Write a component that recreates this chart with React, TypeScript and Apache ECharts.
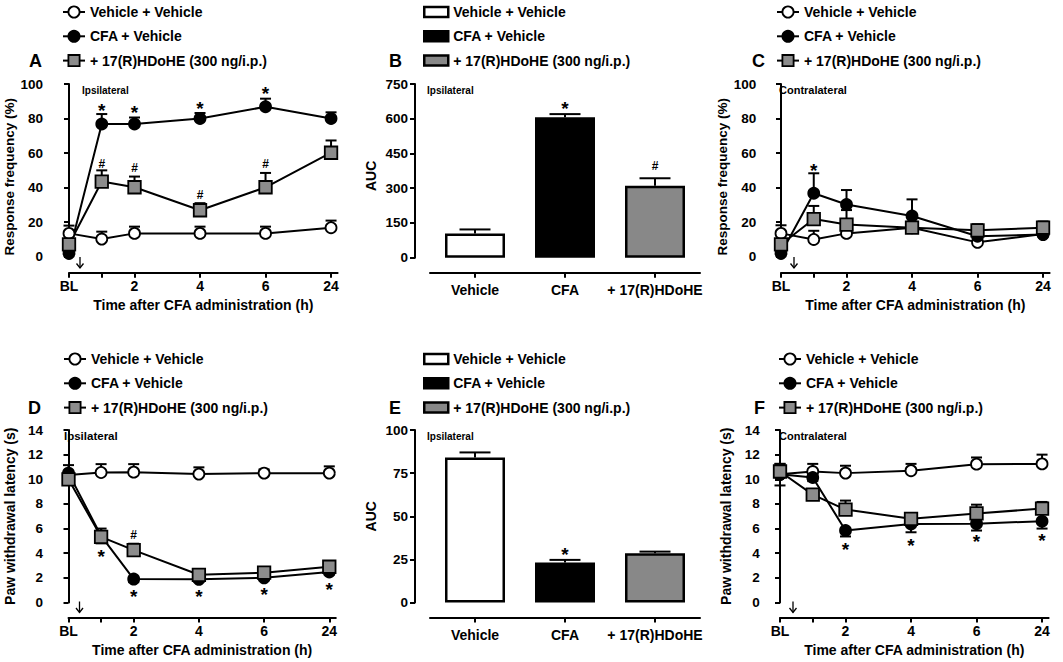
import React, { useEffect, useRef } from 'react';
import * as echarts from 'echarts';

const FONT = '"Liberation Sans", Arial, Helvetica, sans-serif';

// ---------- categories / tick labels ----------
const timeLabels = ['BL', '1', '2', '4', '6', '24'];
const timeAxisPos = [0, 1, 2, 4, 6, 8];
const timeLabelPos = [0, 2, 4, 6, 8];
const barCategories = ['Vehicle', 'CFA', '+ 17(R)HDoHE'];
const groupNames = ['Vehicle + Vehicle', 'CFA + Vehicle', '+ 17(R)HDoHE (300 ng/i.p.)'];
const panelLetters = ['A', 'B', 'C', 'D', 'E', 'F'];
const sideLabels = ['Ipsilateral', 'Ipsilateral', 'Contralateral', 'Ipsilateral', 'Ipsilateral', 'Contralateral'];
const xTimeTitle = 'Time after CFA administration (h)';
const freqTitle = 'Response frequency (%)';
const latTitle = 'Paw withdrawal latency (s)';
const aucTitle = 'AUC';

// ---------- A: ipsilateral response frequency (%) ----------
const vehA = [13.5, 10.2, 13.5, 13.5, 13.5, 16.8];
const vehAErr = [4.5, 4.3, 3.9, 3.9, 3.9, 4.1];
const cfaA = [1.9, 76.8, 76.8, 80.0, 86.8, 80.0];
const cfaAErr = [0, 5.8, 3.8, 3.2, 4.7, 3.6];
const hdA = [7.1, 43.5, 40.2, 26.9, 40.2, 60.2];
const hdAErr = [0, 6.5, 6.2, 4.1, 8.3, 7.1];

// ---------- B: AUC ipsilateral ----------
const aucB = [105, 606, 311];
const aucBErr = [17, 14, 32];

// ---------- C: contralateral response frequency (%) ----------
const vehC = [13.5, 10.0, 13.5, 16.8, 8.3, 13.2];
const vehCErr = [4.7, 5.0, 3.5, 3.0, 3.0, 3.0];
const cfaC = [1.9, 36.7, 30.2, 23.6, 11.8, 12.8];
const cfaCErr = [0, 11.6, 8.4, 9.6, 3.0, 3.0];
const hdC = [7.1, 21.8, 18.6, 16.8, 15.3, 16.8];
const hdCErr = [0, 7.6, 8.4, 3.5, 3.5, 3.6];

// ---------- D: ipsilateral paw withdrawal latency (s) ----------
const vehD = [10.35, 10.55, 10.58, 10.42, 10.5, 10.5];
const vehDErr = [0.8, 0.68, 0.65, 0.55, 0.3, 0.55];
const cfaD = [10.5, 5.4, 1.9, 1.88, 2.0, 2.48];
const cfaDErr = [0, 0.6, 0.25, 0.2, 0.2, 0.2];
const hdD = [10.0, 5.33, 4.25, 2.25, 2.42, 2.9];
const hdDErr = [0.3, 0.67, 0.52, 0.25, 0.2, 0.2];

// ---------- E: AUC ipsilateral latency ----------
const aucE = [84, 23.2, 28.6];
const aucEErr = [3.0, 1.5, 0.9];

// ---------- F: contralateral paw withdrawal latency (s) ----------
const vehF = [10.4, 10.63, 10.5, 10.7, 11.23, 11.25];
const vehFErr = [0.85, 0.62, 0.6, 0.55, 0.54, 0.75];
const cfaF = [10.4, 10.15, 5.84, 6.38, 6.4, 6.6];
const cfaFErr = [0.9, 0.3, 0.48, 0.68, 0.56, 0.6];
const hdF = [10.63, 8.75, 7.54, 6.79, 7.23, 7.62];
const hdFErr = [0.62, 0.3, 0.73, 0.4, 0.71, 0.54];

// ---------- significance marks (time / category index, value) ----------
const sigA = [
  { t: '*', i: 1, y: 87 }, { t: '*', i: 2, y: 86 }, { t: '*', i: 3, y: 88.4 }, { t: '*', i: 4, y: 96.7 },
  { t: '#', i: 1, y: 53.8 }, { t: '#', i: 2, y: 51.3 }, { t: '#', i: 3, y: 35.8 }, { t: '#', i: 4, y: 53.8 },
];
const sigB = [{ t: '*', i: 1, y: 663 }, { t: '#', i: 2, y: 394 }];
const sigC = [{ t: '*', i: 1, y: 52.5 }];
const sigD = [
  { t: '*', i: 1, y: 4.04 }, { t: '*', i: 2, y: 0.8 }, { t: '*', i: 3, y: 0.8 }, { t: '*', i: 4, y: 0.94 },
  { t: '*', i: 5, y: 1.4 }, { t: '#', i: 2, y: 5.44 },
];
const sigE = [{ t: '*', i: 1, y: 30 }];
const sigF = [{ t: '*', i: 2, y: 4.66 }, { t: '*', i: 3, y: 4.98 }, { t: '*', i: 4, y: 5.25 }, { t: '*', i: 5, y: 5.38 }];

// ---------- styles ----------
const symbolFill = ['#ffffff', '#000000', '#8c8c8c'];
const barFill = ['#ffffff', '#000000', '#888888'];

const txt = (size: number, weight: any = 'bold') => ({
  color: '#000', fontFamily: FONT, fontWeight: weight, fontSize: size,
});

function lineXAxis(gridIndex: number, offset: number) {
  return {
    type: 'value', gridIndex, min: 0, max: 8.2, offset,
    axisLine: { show: true, onZero: false, lineStyle: { color: '#000', width: 2 } },
    axisTick: { show: true, length: 5, customValues: timeAxisPos, lineStyle: { color: '#000', width: 2 } },
    axisLabel: {
      ...txt(14), margin: 6, customValues: timeLabelPos,
      formatter: (v: number) => timeLabels[timeAxisPos.indexOf(v)] ?? '',
    },
    splitLine: { show: false },
    name: xTimeTitle, nameLocation: 'middle', nameGap: 25, nameTextStyle: txt(14),
  };
}

function barXAxis(gridIndex: number, offset: number) {
  return {
    type: 'category', gridIndex, data: barCategories, offset,
    axisLine: { show: true, onZero: false, lineStyle: { color: '#000', width: 2 } },
    axisTick: { show: true, alignWithLabel: true, length: 5, lineStyle: { color: '#000', width: 2 } },
    axisLabel: { ...txt(14), margin: 10, interval: 0 },
    splitLine: { show: false },
  };
}

function yAxis(gridIndex: number, max: number, interval: number, name: string, offset: number, nameGap: number, shift: number, nameSize: number) {
  return {
    type: 'value', gridIndex, min: 0, max, interval, offset,
    axisLine: { show: true, lineStyle: { color: '#000', width: 2 } },
    axisTick: { show: true, length: 5, lineStyle: { color: '#000', width: 2 } },
    axisLabel: { ...txt(13.5), margin: 7 },
    splitLine: { show: false },
    name, nameLocation: 'middle', nameGap,
    nameTextStyle: { ...txt(nameSize), padding: [0, shift, 0, 0] },
  };
}

function lineSeries(panel: string, idx: number, k: number, vals: number[]) {
  return {
    type: 'line', name: groupNames[k] + '|' + panel, xAxisIndex: idx, yAxisIndex: idx, z: 2,
    data: vals.map((v, i) => [timeAxisPos[i], v]),
    symbol: k === 2 ? 'rect' : 'circle', symbolSize: k === 2 ? 12.5 : 11,
    showSymbol: true, showAllSymbol: true, silent: true,
    lineStyle: { color: '#000', width: 2 },
    itemStyle: { color: symbolFill[k], borderColor: '#000', borderWidth: 1.8 },
    emphasis: { disabled: true },
  };
}

function barSeries(panel: string, idx: number, k: number, vals: number[]) {
  return {
    type: 'bar', name: groupNames[k] + '|' + panel, xAxisIndex: idx, yAxisIndex: idx, z: 2,
    data: vals.map((v, i) => (i === k ? v : '-')),
    barWidth: 60, barGap: '-100%', silent: true,
    itemStyle: { color: barFill[k], borderColor: '#000', borderWidth: 2.5 },
    emphasis: { disabled: true },
  };
}

function errSeries(idx: number, xs: number[], vals: number[], errs: number[], dir: number, capHalf: number, z: number) {
  return {
    type: 'custom', xAxisIndex: idx, yAxisIndex: idx, z, silent: true,
    data: vals.map((v, i) => [xs[i], v, errs[i]]),
    renderItem: (_p: any, api: any) => {
      const x = api.value(0), y = api.value(1), e = api.value(2);
      if (!e) return null;
      const p0 = api.coord([x, y]);
      const p1 = api.coord([x, y + dir * e]);
      return {
        type: 'group', children: [
          { type: 'line', shape: { x1: p0[0], y1: p0[1], x2: p1[0], y2: p1[1] }, style: { stroke: '#000', lineWidth: 2 } },
          { type: 'line', shape: { x1: p1[0] - capHalf, y1: p1[1], x2: p1[0] + capHalf, y2: p1[1] }, style: { stroke: '#000', lineWidth: 2 } },
        ],
      };
    },
  };
}

function sigSeries(idx: number, marks: { t: string; i: number; y: number }[], xs: number[]) {
  return {
    type: 'custom', xAxisIndex: idx, yAxisIndex: idx, z: 5, silent: true, clip: false,
    data: marks.map((m) => [xs[m.i], m.y]),
    renderItem: (p: any, api: any) => {
      const m = marks[p.dataIndex];
      const c = api.coord([api.value(0), api.value(1)]);
      const star = m.t === '*';
      return {
        type: 'text', x: c[0], y: c[1] + (star ? 4 : 0),
        style: { text: m.t, fill: '#000', font: `bold ${star ? 19 : 12}px ${FONT}`, align: 'center', verticalAlign: 'middle' },
      };
    },
  };
}

function legend(panel: string, left: number, top: number, bar: boolean) {
  return {
    data: groupNames.map((n) => n + '|' + panel),
    orient: 'vertical', left, top, selectedMode: false,
    itemWidth: bar ? 24 : 22, itemHeight: bar ? 10 : 14, itemGap: 10.3,
    icon: bar ? 'rect' : undefined,
    itemStyle: { borderColor: '#000', borderWidth: bar ? 2.5 : 1.8 },
    textStyle: { ...txt(14), lineHeight: 14 },
    formatter: (n: string) => n.split('|')[0],
  };
}

function arrowGraphic(x: number, yTop: number) {
  const len = 11;
  return {
    type: 'group', x, y: yTop, silent: true,
    children: [
      { type: 'line', shape: { x1: 0, y1: 0, x2: 0, y2: len }, style: { stroke: '#000', lineWidth: 1.3 } },
      { type: 'polyline', shape: { points: [[-3.5, len - 4.5], [0, len], [3.5, len - 4.5]] }, style: { stroke: '#000', lineWidth: 1.3, fill: null } },
    ],
  };
}

function buildOption() {
  const catIdx = [0, 1, 2];
  const grids = [
    { left: 69, top: 84, width: 268.6, height: 172.7 },
    { left: 430, top: 84, width: 270, height: 173.7 },
    { left: 781, top: 84, width: 268.6, height: 172.7 },
    { left: 68.5, top: 430, width: 267.3, height: 172.5 },
    { left: 430, top: 430, width: 270, height: 172.5 },
    { left: 780, top: 430, width: 268.6, height: 172.5 },
  ];
  const xAxes = [
    lineXAxis(0, 16), barXAxis(1, 15), lineXAxis(2, 16),
    lineXAxis(3, 15), barXAxis(4, 15), lineXAxis(5, 15),
  ];
  const yAxes = [
    yAxis(0, 100, 20, freqTitle, 19, 33, 13, 13.5),
    yAxis(1, 750, 150, aucTitle, 15, 37, 10, 14),
    yAxis(2, 100, 20, freqTitle, 17.7, 33, 13, 13.5),
    yAxis(3, 14, 2, latTitle, 18.5, 33, 0, 14),
    yAxis(4, 100, 25, aucTitle, 15, 37, 0, 14),
    yAxis(5, 14, 2, latTitle, 13.3, 34, 0, 14),
  ];
  const linePanels = [
    { p: 'A', idx: 0, v: [vehA, cfaA, hdA], e: [vehAErr, cfaAErr, hdAErr], dir: [1, 1, 1], sig: sigA },
    { p: 'C', idx: 2, v: [vehC, cfaC, hdC], e: [vehCErr, cfaCErr, hdCErr], dir: [1, 1, 1], sig: sigC },
    { p: 'D', idx: 3, v: [vehD, cfaD, hdD], e: [vehDErr, cfaDErr, hdDErr], dir: [1, -1, 1], sig: sigD },
    { p: 'F', idx: 5, v: [vehF, cfaF, hdF], e: [vehFErr, cfaFErr, hdFErr], dir: [1, -1, 1], sig: sigF },
  ];
  const barPanels = [
    { p: 'B', idx: 1, v: aucB, e: aucBErr, sig: sigB },
    { p: 'E', idx: 4, v: aucE, e: aucEErr, sig: sigE },
  ];
  const series: any[] = [];
  linePanels.forEach((lp) => {
    for (let k = 0; k < 3; k++) series.push(errSeries(lp.idx, timeAxisPos, lp.v[k], lp.e[k], lp.dir[k], 5.5, 1));
    for (let k = 0; k < 3; k++) series.push(lineSeries(lp.p, lp.idx, k, lp.v[k]));
    series.push(sigSeries(lp.idx, lp.sig, timeAxisPos));
  });
  barPanels.forEach((bp) => {
    for (let k = 0; k < 3; k++) series.push(barSeries(bp.p, bp.idx, k, bp.v));
    series.push(errSeries(bp.idx, catIdx, bp.v, bp.e, 1, 15.5, 3));
    series.push(sigSeries(bp.idx, bp.sig, catIdx));
  });

  const legends = [
    legend('A', 57, 0, false), legend('B', 418, 0, true), legend('C', 771, 0, false),
    legend('D', 58, 347, false), legend('E', 418, 347, true), legend('F', 773, 347, false),
  ];

  const letterPos = [[29, 61], [389, 61], [752, 61], [28, 408], [389, 408], [754, 408]];
  const sidePos = [[82, 90, 10], [427, 90, 10], [779, 90, 11], [64, 436, 11.5], [427, 436.5, 10], [779, 436, 11]];
  const arrowPos = [[80, 257], [794, 257], [79.5, 601.5], [793, 601.5]];
  const graphic: any[] = [];
  panelLetters.forEach((l, i) => graphic.push({
    type: 'text', x: letterPos[i][0], y: letterPos[i][1], silent: true,
    style: { text: l, fill: '#000', font: `bold 18px ${FONT}`, align: 'left', verticalAlign: 'middle' },
  }));
  sideLabels.forEach((s, i) => graphic.push({
    type: 'text', x: sidePos[i][0], y: sidePos[i][1], silent: true,
    style: { text: s, fill: '#000', font: `bold ${sidePos[i][2]}px ${FONT}`, align: 'left', verticalAlign: 'middle' },
  }));
  arrowPos.forEach((a) => graphic.push(arrowGraphic(a[0], a[1])));

  return {
    animation: false,
    backgroundColor: '#ffffff',
    grid: grids,
    xAxis: xAxes,
    yAxis: yAxes,
    legend: legends,
    series,
    graphic,
  };
}

export default function App() {
  const ref = useRef<HTMLDivElement>(null);
  useEffect(() => {
    if (!ref.current) return;
    const chart = echarts.init(ref.current, null, { renderer: 'svg' });
    chart.setOption(buildOption() as any);
    return () => chart.dispose();
  }, []);
  return (
    <div
      ref={ref}
      style={{ position: 'absolute', left: 0, top: 0, width: 1063, height: 662, background: '#fff' }}
    />
  );
}
